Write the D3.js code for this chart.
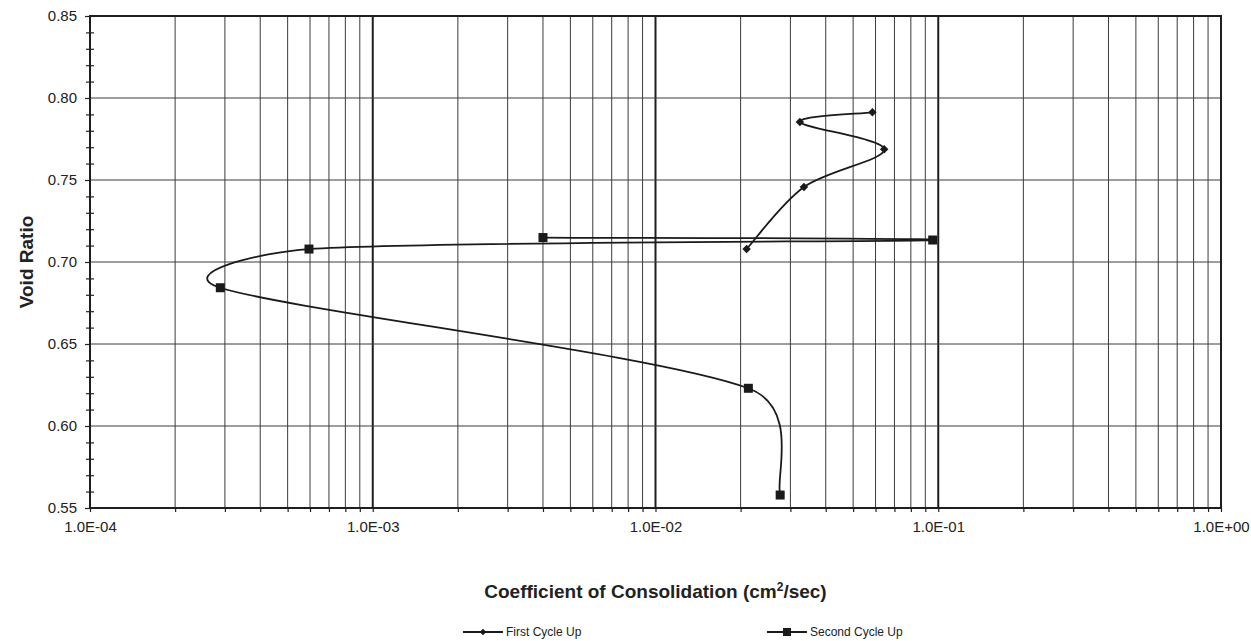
<!DOCTYPE html>
<html>
<head>
<meta charset="utf-8">
<script src="https://cdn.jsdelivr.net/npm/d3@7"></script>
<style>
  html, body { margin: 0; padding: 0; background: #fff; }
  svg { display: block; font-family: "Liberation Sans", Arial, sans-serif; }
</style>
</head>
<body>
<svg id="chart" width="1251" height="641"></svg>
<script>
// ---- Data ----
const firstCv  = [0.0210, 0.0335, 0.0644, 0.0324, 0.0585];
const firstE   = [0.7079, 0.7457, 0.7687, 0.7854, 0.7913];
const secondCv = [0.0040, 0.0956, 0.000595, 0.000289, 0.0213, 0.0276];
const secondE  = [0.7149, 0.7134, 0.7079, 0.6843, 0.6230, 0.5579];
const seriesNames = ["First Cycle Up", "Second Cycle Up"];
const xDecades = [1e-4, 1e-3, 1e-2, 1e-1, 1];
const yMajors = [0.55, 0.60, 0.65, 0.70, 0.75, 0.80, 0.85];

// ---- Layout ----
const W = 1251, H = 641;
const L = 90, R = 1221, T = 16, B = 508;
const svg = d3.select("#chart");
const x = d3.scaleLog().domain([1e-4, 1]).range([L, R]);
const y = d3.scaleLinear().domain([0.55, 0.85]).range([B, T]);

const xMinors = [];
for (let d = 0; d < xDecades.length - 1; d++)
  for (let k = 2; k <= 9; k++) xMinors.push(xDecades[d] * k);
const yMinors = d3.range(55, 86).map(v => v / 100).filter(v => Math.abs(Math.round(v * 20) - v * 20) > 1e-6);

// ---- Grid ----
const grid = svg.append("g");
grid.selectAll("line.vmin").data(xMinors).join("line")
  .attr("x1", d => x(d)).attr("x2", d => x(d)).attr("y1", T).attr("y2", B)
  .attr("stroke", "#3c3c3c").attr("stroke-width", 1);
grid.selectAll("line.vdec").data(xDecades.slice(1, -1)).join("line")
  .attr("x1", d => x(d)).attr("x2", d => x(d)).attr("y1", T).attr("y2", B)
  .attr("stroke", "#1e1e1e").attr("stroke-width", 2);
grid.selectAll("line.h").data(yMajors.slice(1, -1)).join("line")
  .attr("x1", L).attr("x2", R).attr("y1", d => y(d)).attr("y2", d => y(d))
  .attr("stroke", "#3c3c3c").attr("stroke-width", 1);

// ---- Axes ----
const fmtX = v => { const e = Math.round(Math.log10(v)); return "1.0E" + (e < 0 ? "-" : "+") + String(Math.abs(e)).padStart(2, "0"); };

const yAxis = svg.append("g").attr("transform", `translate(${L},0)`)
  .call(d3.axisLeft(y).tickValues(yMajors).tickFormat(d3.format(".2f")).tickSize(5).tickPadding(8));
const yMinorAxis = svg.append("g").attr("transform", `translate(${L},0)`)
  .call(d3.axisLeft(y).tickValues(yMinors).tickFormat("").tickSizeInner(4).tickSizeOuter(0));
yMinorAxis.selectAll(".tick line").attr("x2", -4).attr("x1", 4);

const xAxis = svg.append("g").attr("transform", `translate(0,${B})`)
  .call(d3.axisBottom(x).tickValues(xDecades).tickFormat(fmtX).tickSize(4).tickPadding(9));
const xMinorAxis = svg.append("g").attr("transform", `translate(0,${B})`)
  .call(d3.axisBottom(x).tickValues(xMinors).tickFormat("").tickSizeInner(4).tickSizeOuter(0));

[yAxis, yMinorAxis, xAxis, xMinorAxis].forEach(g => {
  g.select(".domain").remove();
  g.selectAll(".tick line").attr("stroke", "#222").attr("stroke-width", 1.2);
  g.selectAll("text").attr("font-size", 15).attr("fill", "#222")
    .attr("font-family", "'Liberation Sans', Arial, sans-serif");
});

// frame
svg.append("rect").attr("x", L).attr("y", T).attr("width", R - L).attr("height", B - T)
  .attr("fill", "none").attr("stroke", "#1e1e1e").attr("stroke-width", 2);

// ---- Excel-style smoothed path ----
function excelSmooth(pts) {
  const p = d3.path();
  const n = pts.length;
  p.moveTo(pts[0][0], pts[0][1]);
  const dist = (a, b) => Math.hypot(b[0] - a[0], b[1] - a[1]);
  for (let i = 0; i < n - 1; i++) {
    const P0 = pts[Math.max(0, i - 1)], P1 = pts[i], P2 = pts[i + 1], P3 = pts[Math.min(n - 1, i + 2)];
    const d12 = dist(P1, P2);
    const d02 = dist(P0, P2), d13 = dist(P1, P3);
    let f = 1 / 6, g = 1 / 6;
    if (d02 / 6 > d12 / 2 && d02 > 0) f = (d12 / 2) / d02;
    if (d13 / 6 > d12 / 2 && d13 > 0) g = (d12 / 2) / d13;
    const c1 = [P1[0] + (P2[0] - P0[0]) * f, P1[1] + (P2[1] - P0[1]) * f];
    const c2 = [P2[0] - (P3[0] - P1[0]) * g, P2[1] - (P3[1] - P1[1]) * g];
    p.bezierCurveTo(c1[0], c1[1], c2[0], c2[1], P2[0], P2[1]);
  }
  return p.toString();
}

const s1 = firstCv.map((v, i) => [x(v), y(firstE[i])]);
const s2 = secondCv.map((v, i) => [x(v), y(secondE[i])]);

const plot = svg.append("g");
plot.append("path").attr("d", excelSmooth(s2)).attr("fill", "none").attr("stroke", "#1a1a1a").attr("stroke-width", 1.8);
plot.append("path").attr("d", excelSmooth(s1)).attr("fill", "none").attr("stroke", "#1a1a1a").attr("stroke-width", 1.8);

const diamond = d3.symbol().type(d3.symbolSquare).size(36);
plot.selectAll("path.dia").data(s1).join("path")
  .attr("d", diamond).attr("transform", d => `translate(${d[0]},${d[1]}) rotate(45)`)
  .attr("fill", "#1a1a1a");
plot.selectAll("rect.sq").data(s2).join("rect")
  .attr("x", d => d[0] - 4.5).attr("y", d => d[1] - 4.5).attr("width", 9).attr("height", 9)
  .attr("fill", "#1a1a1a");

// ---- Titles ----
svg.append("text").attr("transform", `translate(33,${(T + B) / 2}) rotate(-90)`)
  .attr("text-anchor", "middle").attr("font-size", 19).attr("font-weight", "bold").attr("fill", "#222")
  .text("Void Ratio");
const xt = svg.append("text").attr("x", (L + R) / 2).attr("y", 598)
  .attr("text-anchor", "middle").attr("font-size", 19).attr("font-weight", "bold").attr("fill", "#222");
xt.append("tspan").text("Coefficient of Consolidation (cm");
xt.append("tspan").attr("font-size", 12).attr("dy", -7).text("2");
xt.append("tspan").attr("dy", 7).text("/sec)");

// ---- Legend ----
const legend = svg.append("g");
const legX = [463, 767];
seriesNames.forEach((name, i) => {
  const g = legend.append("g").attr("transform", `translate(${legX[i]},632)`);
  g.append("line").attr("x1", 0).attr("x2", 40).attr("stroke", "#1a1a1a").attr("stroke-width", 2);
  if (i === 0) g.append("path").attr("d", d3.symbol().type(d3.symbolSquare).size(22)).attr("transform", "translate(20,0) rotate(45)").attr("fill", "#1a1a1a");
  else g.append("rect").attr("x", 16).attr("y", -4).attr("width", 8).attr("height", 8).attr("fill", "#1a1a1a");
  g.append("text").attr("x", 43).attr("y", 4).attr("font-size", 12).attr("fill", "#222").text(name);
});
</script>
</body>
</html>
